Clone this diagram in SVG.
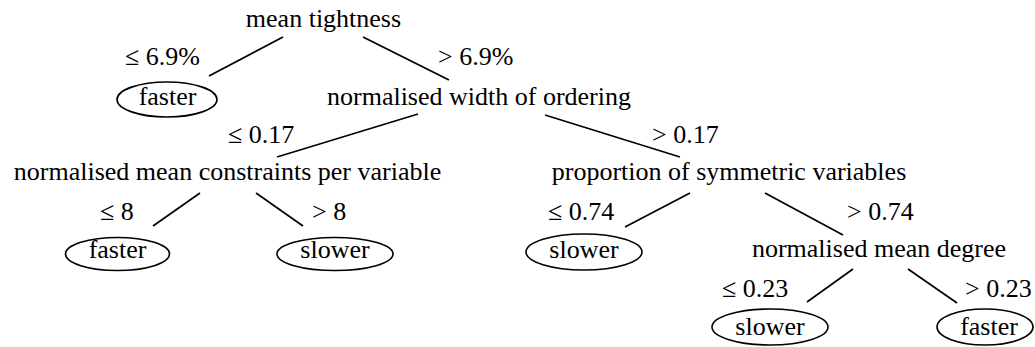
<svg xmlns="http://www.w3.org/2000/svg" width="1035" height="347" viewBox="0 0 1035 347">
  <!-- branches of the decision tree -->
  <g id="edges" stroke="#000" stroke-width="1.7">
    <line x1="283" y1="37" x2="209" y2="76"/>
    <line x1="363" y1="37" x2="449" y2="80"/>
    <line x1="418" y1="114" x2="277" y2="157"/>
    <line x1="545" y1="115" x2="680" y2="157"/>
    <line x1="200" y1="193" x2="153" y2="226"/>
    <line x1="256" y1="193" x2="303" y2="226"/>
    <line x1="690" y1="193" x2="625" y2="227"/>
    <line x1="765" y1="193" x2="843" y2="235"/>
    <line x1="853" y1="269" x2="807" y2="302"/>
    <line x1="908" y1="269" x2="957" y2="303"/>
  </g>

  <!-- split thresholds -->
  <g id="edge-labels" font-family="Liberation Serif" font-size="26" fill="#000">
    <text x="125" y="65">≤ 6.9%</text>
    <text x="438" y="65">&gt; 6.9%</text>
    <text x="228" y="143">≤ 0.17</text>
    <text x="652" y="143">&gt; 0.17</text>
    <text x="100" y="220">≤ 8</text>
    <text x="312" y="220">&gt; 8</text>
    <text x="548" y="220">≤ 0.74</text>
    <text x="847" y="220">&gt; 0.74</text>
    <text x="722" y="297">≤ 0.23</text>
    <text x="965" y="297">&gt; 0.23</text>
  </g>

  <!-- decision nodes -->
  <g font-family="Liberation Serif" font-size="26" fill="#000" text-anchor="middle">
    <g id="n-mean-tightness"><text x="323.5" y="27">mean tightness</text></g>
    <g id="n-width-ordering"><text x="479" y="105">normalised width of ordering</text></g>
    <g id="n-constraints-per-var"><text x="227.5" y="180">normalised mean constraints per variable</text></g>
    <g id="n-symmetric-vars"><text x="729" y="180">proportion of symmetric variables</text></g>
    <g id="n-mean-degree"><text x="879" y="257">normalised mean degree</text></g>
  </g>

  <!-- outcome leaves -->
  <g font-family="Liberation Serif" font-size="26" fill="none" stroke="#000" stroke-width="1.6" text-anchor="middle">
    <g id="leaf-1"><ellipse cx="167" cy="99.5" rx="50" ry="17.5"/><text x="167.5" y="105" fill="#000" stroke="none">faster</text></g>
    <g id="leaf-2"><ellipse cx="117.5" cy="254" rx="52" ry="16.5"/><text x="117.5" y="258" fill="#000" stroke="none">faster</text></g>
    <g id="leaf-3"><ellipse cx="335" cy="254" rx="58" ry="16.5"/><text x="335" y="258" fill="#000" stroke="none">slower</text></g>
    <g id="leaf-4"><ellipse cx="584" cy="252" rx="58" ry="18"/><text x="584" y="258" fill="#000" stroke="none">slower</text></g>
    <g id="leaf-5"><ellipse cx="770" cy="327" rx="58" ry="18"/><text x="770" y="335" fill="#000" stroke="none">slower</text></g>
    <g id="leaf-6"><ellipse cx="985" cy="327" rx="48" ry="18"/><text x="989" y="335" fill="#000" stroke="none">faster</text></g>
  </g>
</svg>
